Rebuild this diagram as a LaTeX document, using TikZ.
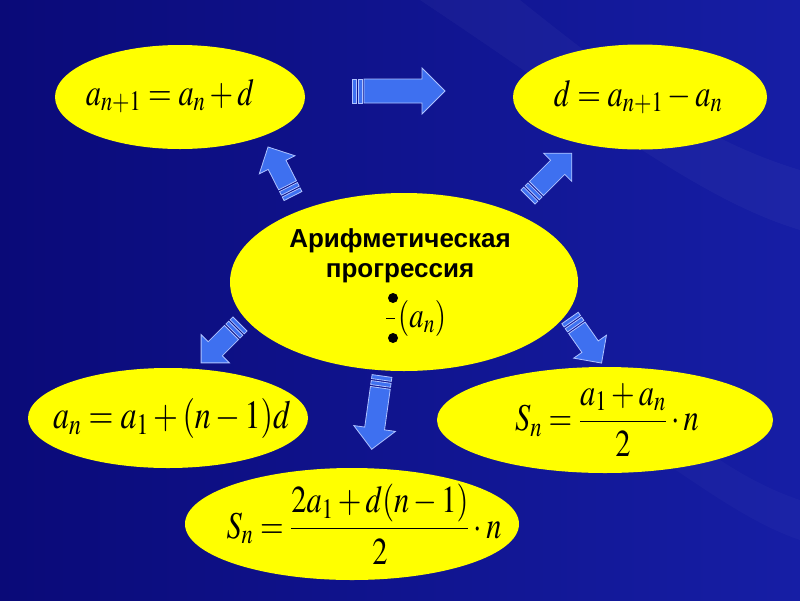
\documentclass[tikz,border=0pt]{standalone}
\usepackage{mathptmx}
\usepackage{fontspec}
\newfontfamily\cyrfont{Liberation Sans}
\usetikzlibrary{shapes.geometric}

\definecolor{bgdark}{RGB}{10,10,120}
\definecolor{bglight}{RGB}{22,30,165}
\definecolor{ovalyellow}{RGB}{255,255,0}
\definecolor{arrowblue}{RGB}{62,112,240}
\definecolor{arrowrim}{RGB}{175,195,255}

\tikzset{
  oval/.style={ellipse,fill=ovalyellow,inner sep=0pt},
  fml/.style={inner sep=0pt,font=\fontsize{38}{40}\selectfont},
  arrowpart/.style={draw=arrowrim,fill=arrowblue,line width=0.8pt,line join=miter}
}

% block arrow: tail x, tail y, angle, length, body half width, head half width
\newcommand{\blockarrow}[6]{%
  \begin{scope}[shift={(#1,#2)},rotate=#3]
    \draw[arrowpart] (0,-#5) rectangle (4,#5);
    \draw[arrowpart] (6,-#5) rectangle (10,#5);
    \draw[arrowpart] (12,-#5) -- ({#4-#6},-#5) -- ({#4-#6},-#6) -- (#4,0)
      -- ({#4-#6},#6) -- ({#4-#6},#5) -- (12,#5) -- cycle;
  \end{scope}}

\newcommand{\sq}[1]{\scalebox{0.8}[1]{$\displaystyle #1$}}

\begin{document}
\begin{tikzpicture}[x=1pt,y=-1pt]
  \useasboundingbox (0,0) rectangle (800,600);
  \shade[left color=bgdark,right color=bglight] (0,0) rectangle (800,600);
  \fill[white,opacity=0.03] (420,0) .. controls (600,120) and (700,200) .. (800,230)
    -- (800,170) .. controls (700,140) and (620,80) .. (520,0) -- cycle;
  \fill[white,opacity=0.025] (600,420) .. controls (680,470) and (740,520) .. (800,540)
    -- (800,500) .. controls (740,480) and (690,440) .. (640,400) -- cycle;

  % ovals
  \node[oval,minimum width=250,minimum height=104] (rec) at (180,97) {};
  \node[oval,minimum width=254,minimum height=105] (diff) at (640,97) {};
  \node[oval,minimum width=348,minimum height=178] (prog) at (404,282) {};
  \node[oval,minimum width=280,minimum height=100] (nth) at (168,418) {};
  \node[oval,minimum width=336,minimum height=106] (sumA) at (605,420) {};
  \node[oval,minimum width=334,minimum height=112] (sumB) at (352,524) {};

  % formulas
  \node[fml] (recT) at (170,96) {\sq{a_{n+1} = a_n + d}};
  \node[fml] (diffT) at (638,97) {\sq{d = a_{n+1} - a_n}};
  \node[fml,font=\fontsize{40}{42}\selectfont] (nthT) at (172,418) {\sq{a_n = a_1 + (n-1)d}};
  \node[fml] (sumAT) at (607,420) {\sq{S_n = \frac{a_1 + a_n}{2}\cdot n}};
  \node[fml] (sumBT) at (364,524) {\sq{S_n = \frac{2a_1 + d(n-1)}{2}\cdot n}};

  % centre
  \node[align=center,font=\cyrfont\bfseries\fontsize{26}{30}\selectfont] (progT) at (400,256)
    {Арифметическая\\прогрессия};
  \node[circle,fill=black,inner sep=0pt,minimum size=10] (dotA) at (393,298) {};
  \node[circle,fill=black,inner sep=0pt,minimum size=10] (dotB) at (393,338) {};
  \draw[line width=0.7pt] (386,318) -- (395,318);
  \node[fml,font=\fontsize{36}{38}\selectfont,anchor=west] (seqT) at (398,318) {\sq{(a_n)}};

  % arrows
  \blockarrow{352}{91}{0}{93}{12}{23}
  \blockarrow{293}{196}{117}{55}{10}{20}
  \blockarrow{528}{197}{45}{62}{10}{20}
  \blockarrow{240}{324}{225}{55}{10}{20}
  \blockarrow{570}{318}{-55}{55}{10}{20}
  \blockarrow{382}{376}{-98}{74}{10}{21}
\end{tikzpicture}
\end{document}
